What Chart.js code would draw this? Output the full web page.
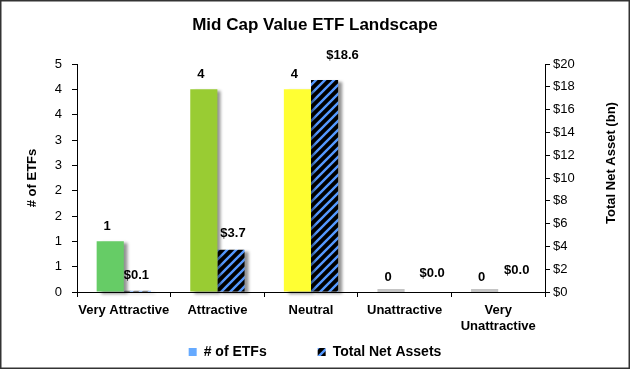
<!DOCTYPE html>
<html>
<head>
<meta charset="utf-8">
<script src="https://cdn.jsdelivr.net/npm/chart.js@4.4.0/dist/chart.umd.min.js"></script>
<style>
  html, body { margin: 0; padding: 0; background: #fff; }
  #wrap { width: 630px; height: 369px; }
</style>
</head>
<body>
<div id="wrap"><canvas id="etfChart" width="630" height="369"></canvas></div>
<script>
// --- DATA ---
const categories = ['Very Attractive', 'Attractive', 'Neutral', 'Unattractive', ['Very', 'Unattractive']];
const etfCounts = [1, 4, 4, 0, 0];
const netAssets = [0.1, 3.7, 18.6, 0.0, 0.0];
const seriesNames = ['# of ETFs', 'Total Net Assets'];
const axisTitles = ['# of ETFs', 'Total Net Asset (bn)'];

// --- STYLE ---
const ratingColors = ['#66cc66', '#99cc33', '#ffff33', '#ff9933', '#ff3333'];
const legendBlue = '#66aaff';
const FONT = "'Liberation Sans', Arial, sans-serif";

// label nudges (Excel labels were dragged a bit)
const dollarLabelDx = [-1, 2, 18, 14, 5];
const dollarLabelDy = [-15, -16, -25, -19, -22];

Chart.defaults.font.family = FONT;
Chart.defaults.color = '#000';

const canvas = document.getElementById('etfChart');
const ctx = canvas.getContext('2d');

function makeHatch() {
    const c = document.createElement('canvas');
    c.width = 9; c.height = 9;
    const g = c.getContext('2d');
    g.fillStyle = '#000';
    g.fillRect(0, 0, 9, 9);
    g.strokeStyle = '#5599ff';
    g.lineWidth = 2.4;
    g.beginPath();
    g.moveTo(-1, 10); g.lineTo(10, -1);
    g.moveTo(-5, 5); g.lineTo(5, -5);
    g.moveTo(4, 14); g.lineTo(14, 4);
    g.stroke();
    return ctx.createPattern(c, 'repeat');
}
const hatch = makeHatch();

// --- PLUGINS ---
const barShadow = {
    id: 'barShadow',
    beforeDatasetsDraw(chart) {
        const c = chart.ctx;
        c.save();
        c.shadowColor = 'rgba(0,0,0,0.42)';
        c.shadowOffsetX = 4;
        c.shadowOffsetY = 2;
        c.shadowBlur = 3;
    },
    afterDatasetsDraw(chart) {
        const c = chart.ctx;
        c.restore();
        // flat grey stubs where the count is zero
        chart.getDatasetMeta(0).data.forEach((bar, j) => {
            if (etfCounts[j] === 0) {
                c.fillStyle = '#c4c4c4';
                c.fillRect(bar.x - bar.width / 2, bar.base - 3, bar.width, 3);
            }
        });
    }
};

const valueLabels = {
    id: 'valueLabels',
    afterDatasetsDraw(chart) {
        const c = chart.ctx;
        c.save();
        c.font = 'bold 13px ' + FONT;
        c.fillStyle = '#000';
        c.textAlign = 'center';
        c.textBaseline = 'middle';
        chart.getDatasetMeta(0).data.forEach((bar, j) => {
            c.fillText(String(etfCounts[j]), bar.x - 3, bar.y - 15);
        });
        chart.getDatasetMeta(1).data.forEach((bar, j) => {
            c.fillText('$' + netAssets[j].toFixed(1), bar.x + dollarLabelDx[j], bar.y + dollarLabelDy[j]);
        });
        c.restore();
    }
};

// both axis titles read bottom-to-top, as in the Excel original
const axisTitlePlugin = {
    id: 'axisTitlePlugin',
    afterDraw(chart) {
        const c = chart.ctx;
        const area = chart.chartArea;
        c.save();
        c.font = 'bold 13px ' + FONT;
        c.fillStyle = '#000';
        c.textAlign = 'center';
        c.textBaseline = 'middle';
        [[32, (area.top + area.bottom) / 2, axisTitles[0]],
         [611, (area.top + area.bottom) / 2 - 15, axisTitles[1]]].forEach(([x, y, t]) => {
            c.save();
            c.translate(x, y);
            c.rotate(-Math.PI / 2);
            c.fillText(t, 0, 0);
            c.restore();
        });
        c.restore();
    }
};

const frame = {
    id: 'frame',
    afterDraw(chart) {
        const c = chart.ctx;
        c.save();
        c.strokeStyle = '#333';
        c.lineWidth = 1.5;
        c.strokeRect(0.75, 0.75, chart.width - 1.5, chart.height - 1.5);
        c.restore();
    }
};

// --- CHART ---
const gap = '\u2003\u2003\u2003';
new Chart(ctx, {
    type: 'bar',
    data: {
        labels: categories,
        datasets: [{
            label: seriesNames[0],
            data: etfCounts,
            backgroundColor: ratingColors,
            yAxisID: 'y',
            categoryPercentage: 0.58,
            barPercentage: 1.0,
            clip: false
        }, {
            label: seriesNames[1],
            data: netAssets,
            backgroundColor: hatch,
            yAxisID: 'y2',
            categoryPercentage: 0.58,
            barPercentage: 1.0,
            clip: false
        }]
    },
    options: {
        responsive: false,
        animation: false,
        devicePixelRatio: 1,
        layout: { padding: 0 },
        plugins: {
            title: {
                display: true,
                text: 'Mid Cap Value ETF Landscape',
                font: { size: 17, weight: 'bold' },
                color: '#000',
                padding: { top: 15, bottom: 28.6 }
            },
            legend: {
                position: 'bottom',
                labels: {
                    font: { size: 14, weight: 'bold' },
                    boxWidth: 8,
                    boxHeight: 8,
                    padding: 9,
                    generateLabels() {
                        return [
                            { text: seriesNames[0] + gap, fillStyle: legendBlue, strokeStyle: 'rgba(0,0,0,0)', lineWidth: 0, datasetIndex: 0 },
                            { text: seriesNames[1], fillStyle: hatch, strokeStyle: 'rgba(0,0,0,0)', lineWidth: 0, datasetIndex: 1 }
                        ];
                    }
                }
            },
            tooltip: { enabled: false }
        },
        scales: {
            x: {
                grid: { display: true, drawOnChartArea: false, drawTicks: true, tickLength: 5, color: '#000', offset: true },
                border: { display: true, color: '#000', width: 1 },
                ticks: { font: { size: 13, weight: 'bold' }, color: '#000', padding: 6, maxRotation: 0, autoSkip: false },
                afterFit(scale) { scale.height = 44; }
            },
            y: {
                position: 'left',
                min: 0,
                max: 4.5,
                grid: { drawOnChartArea: false, drawTicks: true, tickLength: 5, color: '#000' },
                border: { display: true, color: '#000', width: 1 },
                ticks: {
                    stepSize: 0.5,
                    font: { size: 13 },
                    color: '#000',
                    padding: 10,
                    callback: v => Math.round(v)
                },
                afterFit(scale) { scale.width = 77; }
            },
            y2: {
                position: 'right',
                min: 0,
                max: 20,
                grid: { drawOnChartArea: false, drawTicks: true, tickLength: 5, color: '#000' },
                border: { display: true, color: '#000', width: 1 },
                ticks: {
                    stepSize: 2,
                    font: { size: 13 },
                    color: '#000',
                    padding: 3,
                    callback: v => '$' + v
                },
                afterFit(scale) { scale.width = 85; }
            }
        }
    },
    plugins: [barShadow, valueLabels, axisTitlePlugin, frame]
});
</script>
</body>
</html>
